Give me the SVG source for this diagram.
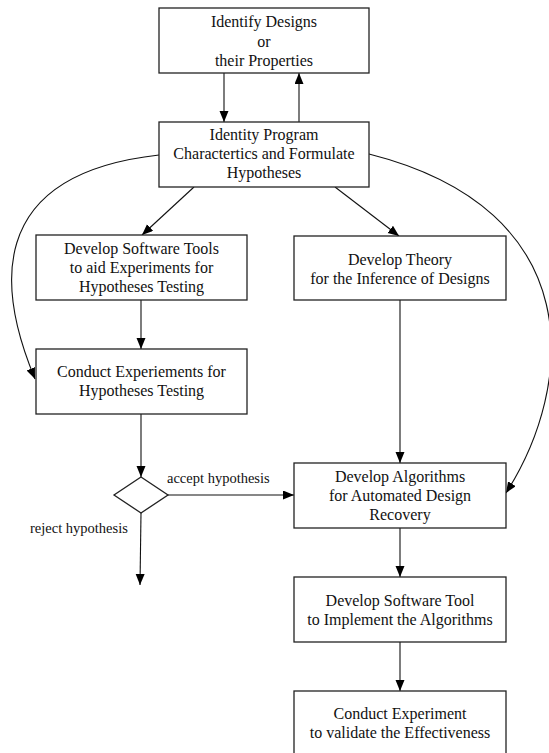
<svg xmlns="http://www.w3.org/2000/svg" width="549" height="753" viewBox="0 0 549 753">
<style>
.box{fill:#fff;stroke:#222;stroke-width:1.3}
.t{font-family:"Liberation Serif","Times New Roman",serif;font-size:16px;fill:#111;text-anchor:middle}
.lbl{font-family:"Liberation Serif","Times New Roman",serif;font-size:14.5px;fill:#111}
.c{fill:none;stroke:#111;stroke-width:1.1;marker-end:url(#ah)}
</style>
<defs>
<marker id="ah" markerWidth="12" markerHeight="10" refX="11" refY="4.5" orient="auto" markerUnits="userSpaceOnUse">
<path d="M0,0 L11,4.5 L0,9 Z" fill="#000"/>
</marker>
</defs>
<rect width="549" height="753" fill="#fff"/>
<g id="connectors">
<line class="c" x1="224" y1="73" x2="224" y2="122"/>
<line class="c" x1="299" y1="122" x2="299" y2="73"/>
<line class="c" x1="194" y1="187" x2="142" y2="235"/>
<line class="c" x1="335" y1="187" x2="399" y2="236"/>
<line class="c" x1="141" y1="300" x2="141" y2="349"/>
<line class="c" x1="400" y1="300" x2="400" y2="463"/>
<line class="c" x1="141" y1="414" x2="141" y2="477"/>
<line class="c" x1="168" y1="495" x2="294" y2="495"/>
<line class="c" x1="141" y1="513" x2="140" y2="585"/>
<line class="c" x1="400" y1="528" x2="400" y2="577"/>
<line class="c" x1="400" y1="642" x2="400" y2="691"/>
<path class="c" d="M159,155 C-20,175 0,295 35,379"/>
<path class="c" d="M369,154 C590,210 575,385 506,493"/>
<text class="lbl" x="167" y="483">accept hypothesis</text>
<text class="lbl" x="30" y="533">reject hypothesis</text>
</g>
<g id="n1"><rect class="box" x="159" y="8" width="210" height="65"/>
<text class="t" x="264" y="27">Identify Designs</text><text class="t" x="264" y="46.5">or</text><text class="t" x="264" y="65.5">their Properties</text></g>
<g id="n2"><rect class="box" x="159" y="122" width="210" height="65"/>
<text class="t" x="264" y="139.5">Identity Program</text><text class="t" x="264" y="158.5">Charactertics and Formulate</text><text class="t" x="264" y="177.5">Hypotheses</text></g>
<g id="n3"><rect class="box" x="36" y="235" width="211" height="65"/>
<text class="t" x="141.5" y="253.5">Develop Software Tools</text><text class="t" x="141.5" y="273">to aid Experiments for</text><text class="t" x="141.5" y="292">Hypotheses Testing</text></g>
<g id="n4"><rect class="box" x="294" y="236" width="212" height="64"/>
<text class="t" x="400" y="265">Develop Theory</text><text class="t" x="400" y="284">for the Inference of Designs</text></g>
<g id="n5"><rect class="box" x="36" y="349" width="211" height="65"/>
<text class="t" x="141.5" y="377">Conduct Experiements for</text><text class="t" x="141.5" y="396">Hypotheses Testing</text></g>
<g id="n6"><polygon class="box" points="141,477 168,495 141,513 114,495"/></g>
<g id="n7"><rect class="box" x="294" y="463" width="212" height="65"/>
<text class="t" x="400" y="482">Develop Algorithms</text><text class="t" x="400" y="501">for Automated Design</text><text class="t" x="400" y="520">Recovery</text></g>
<g id="n8"><rect class="box" x="294" y="577" width="212" height="65"/>
<text class="t" x="400" y="605.5">Develop Software Tool</text><text class="t" x="400" y="624.5">to Implement the Algorithms</text></g>
<g id="n9"><rect class="box" x="294" y="691" width="212" height="65"/>
<text class="t" x="400" y="718.5">Conduct Experiment</text><text class="t" x="400" y="738">to validate the Effectiveness</text></g>
</svg>
